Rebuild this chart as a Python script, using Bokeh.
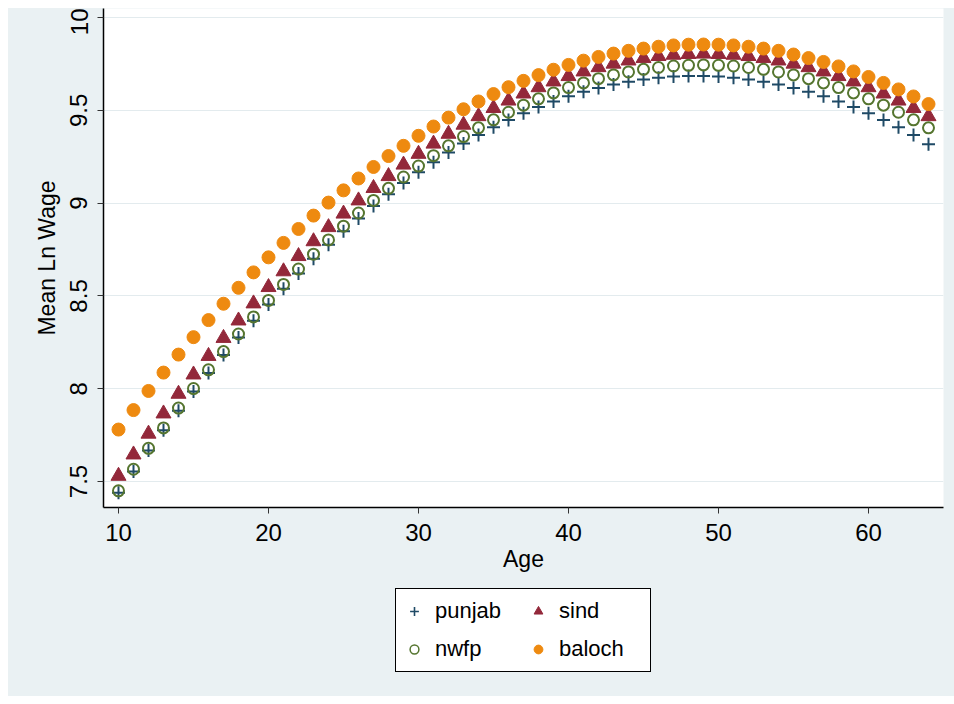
from bokeh.plotting import figure
from bokeh.layouts import column
from bokeh.models import Range1d, FixedTicker, Legend, LegendItem
from bokeh.embed import file_html
from bokeh.resources import INLINE

# ---- data ----
ages = [10, 11, 12, 13, 14, 15, 16, 17, 18, 19, 20, 21, 22, 23, 24, 25, 26, 27, 28, 29,
        30, 31, 32, 33, 34, 35, 36, 37, 38, 39, 40, 41, 42, 43, 44, 45, 46, 47, 48, 49,
        50, 51, 52, 53, 54, 55, 56, 57, 58, 59, 60, 61, 62, 63, 64]

punjab = [7.439, 7.554, 7.667, 7.776, 7.882, 7.985, 8.085, 8.182, 8.276, 8.367,
          8.454, 8.539, 8.621, 8.700, 8.776, 8.848, 8.918, 8.985, 9.048, 9.109,
          9.167, 9.221, 9.273, 9.321, 9.367, 9.409, 9.448, 9.485, 9.518, 9.548,
          9.576, 9.600, 9.621, 9.639, 9.654, 9.666, 9.676, 9.682, 9.685, 9.685,
          9.682, 9.676, 9.666, 9.654, 9.639, 9.621, 9.600, 9.576, 9.548, 9.518,
          9.485, 9.448, 9.409, 9.367, 9.318]

sind = [7.530, 7.645, 7.757, 7.866, 7.972, 8.076, 8.176, 8.273, 8.367, 8.459,
        8.547, 8.632, 8.714, 8.794, 8.870, 8.943, 9.014, 9.081, 9.145, 9.207,
        9.265, 9.320, 9.373, 9.422, 9.468, 9.512, 9.552, 9.590, 9.624, 9.655,
        9.684, 9.709, 9.732, 9.751, 9.768, 9.781, 9.792, 9.799, 9.803, 9.805,
        9.803, 9.799, 9.792, 9.781, 9.768, 9.751, 9.732, 9.709, 9.684, 9.655,
        9.624, 9.590, 9.552, 9.512, 9.468]

nwfp = [7.450, 7.566, 7.679, 7.789, 7.896, 8.001, 8.102, 8.200, 8.295, 8.387,
        8.476, 8.562, 8.645, 8.725, 8.802, 8.876, 8.947, 9.015, 9.080, 9.141,
        9.200, 9.256, 9.309, 9.359, 9.406, 9.449, 9.490, 9.528, 9.562, 9.594,
        9.623, 9.648, 9.671, 9.691, 9.707, 9.721, 9.731, 9.739, 9.743, 9.745,
        9.743, 9.739, 9.731, 9.721, 9.707, 9.691, 9.671, 9.648, 9.623, 9.594,
        9.562, 9.528, 9.490, 9.449, 9.406]

baloch = [7.780, 7.885, 7.988, 8.087, 8.184, 8.278, 8.370, 8.458, 8.544, 8.627,
          8.708, 8.786, 8.861, 8.933, 9.003, 9.069, 9.133, 9.195, 9.254, 9.309,
          9.363, 9.413, 9.461, 9.506, 9.548, 9.588, 9.625, 9.659, 9.690, 9.719,
          9.745, 9.768, 9.788, 9.806, 9.821, 9.833, 9.843, 9.850, 9.854, 9.855,
          9.854, 9.850, 9.843, 9.833, 9.821, 9.801, 9.782, 9.761, 9.737, 9.710,
          9.680, 9.648, 9.613, 9.575, 9.534]

x_ticks = [10, 20, 30, 40, 50, 60]
y_ticks = [7.5, 8, 8.5, 9, 9.5, 10]
y_tick_labels = ["7.5", "8", "8.5", "9", "9.5", "10"]

x_title = "Age"
y_title = "Mean Ln Wage"
series_names = ["punjab", "nwfp", "sind", "baloch"]

# ---- styling ----
BG = "#EAF1F3"
FONT = "Liberation Sans"

styles = {
    "punjab": dict(marker="cross", size=13, line_color="#1f4a66", line_width=2),
    "sind": dict(marker="triangle", size=15, fill_color="#93283a", line_color="#93283a"),
    "nwfp": dict(marker="circle", size=11, fill_alpha=0, line_color="#55752f", line_width=2),
    "baloch": dict(marker="circle", size=13, fill_color="#ee8a10", line_color="#ee8a10"),
}
key_styles = {
    "punjab": dict(marker="cross", size=10, line_color="#1f4a66", line_width=1.6),
    "sind": dict(marker="triangle", size=14, fill_color="#93283a", line_color="#93283a"),
    "nwfp": dict(marker="circle", size=8, fill_alpha=0, line_color="#55752f", line_width=1.5),
    "baloch": dict(marker="circle", size=9, fill_color="#ee8a10", line_color="#ee8a10"),
}

p = figure(width=946, height=572,
           x_range=Range1d(9, 65), y_range=Range1d(7.36, 10.049),
           output_backend="svg", toolbar_location=None,
           min_border_left=95, min_border_right=11,
           min_border_top=0, min_border_bottom=73,
           background_fill_color="white", border_fill_color=BG,
           outline_line_color=None)

p.scatter(ages, punjab, **styles["punjab"])
p.scatter(ages, sind, **styles["sind"])
p.scatter(ages, nwfp, **styles["nwfp"])
p.scatter(ages, baloch, **styles["baloch"])

# axes
p.xaxis.ticker = FixedTicker(ticks=x_ticks)
p.yaxis.ticker = FixedTicker(ticks=y_ticks)
p.yaxis.major_label_overrides = {t: s for t, s in zip(y_ticks, y_tick_labels)}
p.yaxis.major_label_orientation = "vertical"
p.xaxis.axis_label = x_title
p.yaxis.axis_label = y_title

for ax in (p.xaxis[0], p.yaxis[0]):
    ax.axis_line_color = "black"
    ax.axis_line_width = 1.5
    ax.major_tick_line_color = "#333333"
    ax.major_tick_line_width = 1
    ax.major_tick_out = 6
    ax.major_tick_in = 0
    ax.minor_tick_line_color = None
    ax.major_label_text_font = FONT
    ax.major_label_text_font_size = "24px"
    ax.major_label_text_color = "black"
    ax.axis_label_text_font = FONT
    ax.axis_label_text_font_size = "23px"
    ax.axis_label_text_font_style = "normal"
    ax.axis_label_text_color = "black"

p.xaxis.major_label_standoff = 10
p.xaxis.axis_label_standoff = 2
p.yaxis.major_label_standoff = 10
p.yaxis.axis_label_standoff = 8

p.xgrid.visible = False
p.ygrid.grid_line_color = "#E3EBEE"
p.ygrid.grid_line_width = 1

# ---- legend strip (own small figure below the plot) ----
lp = figure(width=946, height=116, x_range=Range1d(0, 1), y_range=Range1d(0, 1),
            output_backend="svg", toolbar_location=None,
            x_axis_location=None, y_axis_location=None,
            min_border_left=0, min_border_right=0, min_border_top=0, min_border_bottom=0,
            background_fill_alpha=0, border_fill_alpha=0, outline_line_color=None)
lp.xgrid.visible = False
lp.ygrid.visible = False

items = []
for name in series_names:
    # key glyph only: one point placed outside the visible range of the strip
    r = lp.scatter([-5], [-5], **key_styles[name])
    items.append(LegendItem(label=name, renderers=[r]))

legend = Legend(items=items, ncols=2, location=(292, 24), orientation="vertical",
                label_text_font=FONT, label_text_font_size="22px", label_text_color="black",
                border_line_color="black", border_line_width=1, border_line_alpha=1,
                background_fill_color="white", background_fill_alpha=1,
                padding=7, spacing=8, glyph_width=22, glyph_height=30,
                label_height=30, label_width=84, label_standoff=10, margin=0)
lp.add_layout(legend, "center")

layout = column(p, lp, spacing=0)
layout.margin = (8, 0, 8, 8)
layout.styles = {"background-color": BG}

open("out.html", "w").write(file_html(layout, INLINE))
